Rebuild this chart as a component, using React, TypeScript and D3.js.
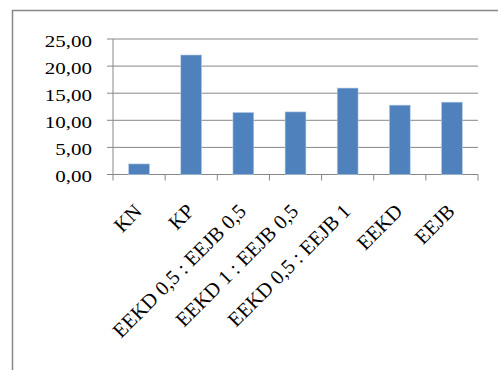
import React from "react";
import * as d3 from "d3";

const categories = ["KN", "KP", "EEKD 0,5 : EEJB 0,5", "EEKD 1 : EEJB 0,5", "EEKD 0,5 : EEJB 1", "EEKD", "EEJB"];
const values = [1.95, 22.05, 11.45, 11.55, 15.95, 12.8, 13.35];
const yTicks = [0, 5, 10, 15, 20, 25];

const W = 498, H = 370;
const plot = { left: 113, right: 478, top: 39, bottom: 174.5 };

export default function App() {
  const x = d3.scaleBand<string>().domain(categories).range([plot.left, plot.right]).paddingInner(0.6).paddingOuter(0.3);
  const xb = d3.scaleBand<string>().domain(categories).range([plot.left, plot.right]);
  const y = d3.scaleLinear().domain([0, 25]).range([plot.bottom, plot.top]);
  const fmt = (v: number) => v.toFixed(2).replace(".", ",");
  const font = "'Liberation Serif', 'Times New Roman', serif";
  return (
    <svg width={W} height={H} style={{ position: "absolute", left: 0, top: 0, background: "#fff" }}>
      <rect x={12.5} y={10.5} width={W} height={H} fill="#fff" stroke="#878787" strokeWidth={1.5} />
      {yTicks.map((t) => (
        <g key={t}>
          <line x1={plot.left - 6} x2={plot.right} y1={y(t)} y2={y(t)} stroke="#878787" strokeWidth={1} />
          <text transform={`translate(92,${y(t) + 7.5}) scale(1.2,1)`} textAnchor="end" fontFamily={font} fontSize={17.5} fill="#000">{fmt(t)}</text>
        </g>
      ))}
      <line x1={plot.left} x2={plot.left} y1={plot.top} y2={plot.bottom} stroke="#878787" strokeWidth={1} />
      {categories.map((c, i) => (
        <rect key={c} x={x(c)} y={y(values[i])} width={x.bandwidth()} height={y(0) - y(values[i])} fill="#4F81BD" stroke="#B9CDE5" strokeWidth={0.6} />
      ))}
      {d3.range(categories.length + 1).map((i) => {
        const xx = plot.left + i * xb.step();
        return <line key={i} x1={xx} x2={xx} y1={plot.bottom} y2={plot.bottom + 6} stroke="#878787" strokeWidth={1} />;
      })}
      {categories.map((c) => {
        const cx = (xb(c) as number) + xb.bandwidth() / 2 + 4;
        const cy = plot.bottom + 38;
        return (
          <text key={c} transform={`translate(${cx},${cy}) rotate(-45)`} textAnchor="end" fontFamily={font} fontSize={20.5} fill="#000">{c}</text>
        );
      })}
    </svg>
  );
}
